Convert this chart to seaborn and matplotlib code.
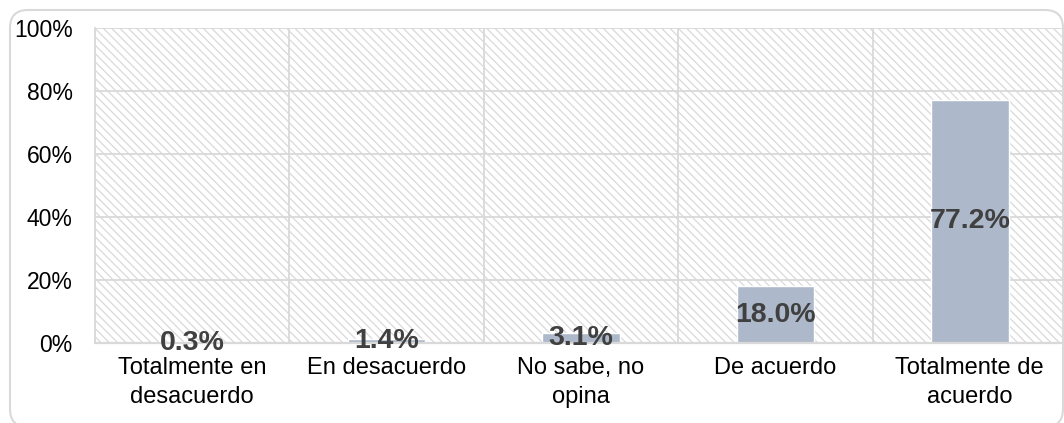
import matplotlib
matplotlib.use("Agg")
import matplotlib.pyplot as plt
import matplotlib.patches as mpatches
from matplotlib.ticker import FuncFormatter, MultipleLocator, FixedLocator
import seaborn as sns
import pandas as pd

categories = ["Totalmente en\ndesacuerdo", "En desacuerdo", "No sabe, no\nopina",
              "De acuerdo", "Totalmente de\nacuerdo"]
values = [0.3, 1.4, 3.1, 18.0, 77.2]
value_labels = ["0.3%", "1.4%", "3.1%", "18.0%", "77.2%"]

sns.set_theme(style="white")
plt.rcParams["font.family"] = ["Liberation Sans", "DejaVu Sans"]
plt.rcParams["hatch.linewidth"] = 0.9

df = pd.DataFrame({"categoria": categories, "porcentaje": values})

fig = plt.figure(figsize=(10.64, 4.23), dpi=100)
fig.patch.set_facecolor("white")
ax = fig.add_axes([95 / 1064, 1 - 343 / 423, (1067 - 95) / 1064, 315 / 423])

# hatched plot-area background
bg = mpatches.Rectangle((0, 0), 1, 1, transform=ax.transAxes, facecolor="white",
                        edgecolor="#d9d9d9", hatch="\\\\\\\\", linewidth=0, zorder=0)
ax.add_patch(bg)

sns.barplot(data=df, x="categoria", y="porcentaje", color="#adb9ca",
            width=0.4, saturation=1, ax=ax, zorder=2)

ax.set_xlim(-0.5, len(categories) - 0.5)
ax.set_ylim(0, 100)
ax.yaxis.set_major_locator(MultipleLocator(20))
ax.yaxis.set_major_formatter(FuncFormatter(lambda v, _: f"{v:.0f}%"))
ax.xaxis.set_minor_locator(FixedLocator([i - 0.5 for i in range(len(categories) + 1)]))

ax.set_axisbelow(True)
ax.grid(axis="y", which="major", color="#d9d9d9", linewidth=1.3)
ax.grid(axis="x", which="minor", color="#d9d9d9", linewidth=1.3)
ax.grid(axis="x", which="major", visible=False)

for side in ["top", "right"]:
    ax.spines[side].set_visible(False)
ax.spines["left"].set_color("#d9d9d9")
ax.spines["left"].set_linewidth(1.3)
ax.spines["bottom"].set_color("#d9d9d9")
ax.spines["bottom"].set_linewidth(1.6)

ax.set_xlabel("")
ax.set_ylabel("")
ax.tick_params(axis="y", length=0, pad=16, labelsize=16.5, labelcolor="#000000")
ax.tick_params(axis="x", which="both", length=0, pad=10, labelsize=17, labelcolor="#000000")
for lbl in ax.get_xticklabels():
    lbl.set_linespacing(1.4)

for i, (v, txt) in enumerate(zip(values, value_labels)):
    ax.text(i, v / 2, txt, ha="center", va="center", fontsize=20.5,
            fontweight="bold", color="#404040", zorder=5)

# rounded chart frame
frame = mpatches.FancyBboxPatch((10, -4), 1053, 417,
                                boxstyle="round,pad=0,rounding_size=18",
                                facecolor="none", edgecolor="#d9d9d9",
                                linewidth=1.5, transform=None)
fig.add_artist(frame)

fig.savefig("out.png", dpi=100)
